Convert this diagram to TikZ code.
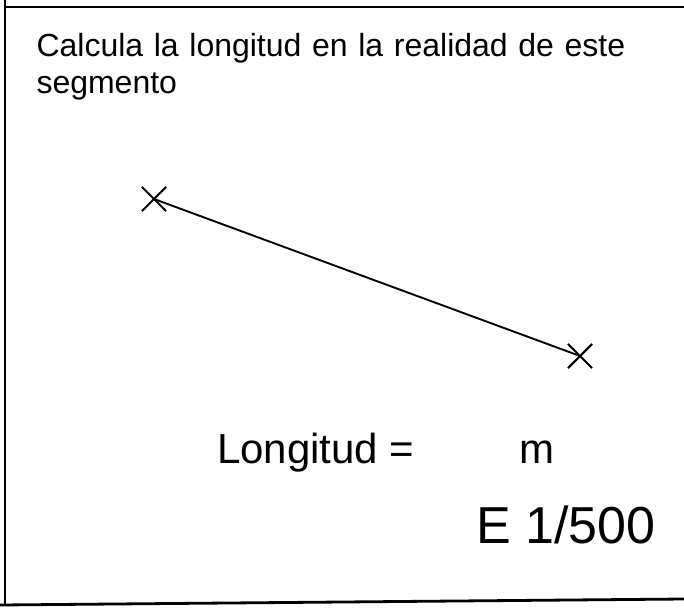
\documentclass[tikz,border=0pt]{standalone}
\usepackage{fontspec}
\setmainfont{Liberation Sans}
\usetikzlibrary{shapes.misc}

\begin{document}
\begin{tikzpicture}[x=1pt, y=-1pt,
    marca/.style={cross out, draw, line width=2.1pt, minimum size=22pt, inner sep=0pt},
    marco/.style={line width=2.8pt},
    texto/.style={anchor=base west, inner sep=0pt, outer sep=0pt}]
    \useasboundingbox (0,0) rectangle (684,607);

    % 边框（左、上、下）
    \draw[marco] (5,0) -- (5,604);
    \draw[marco] (4,7) -- (684,7);
    \draw[marco] (0,605) -- (684,599);

    % 题目
    \node[texto, text width=640pt, align=left,
          font=\fontsize{32}{36.5}\selectfont] (titulo) at (36.5,57)
        {Calcula la longitud en la realidad de este\\segmento};

    % 线段及两端的叉号
    \node[marca] (A) at (154,199) {};
    \node[marca] (B) at (580,356) {};
    \draw[line width=1.9pt] (A.center) -- (B.center);

    % 答案与比例尺
    \node[texto, font=\fontsize{42}{48}\selectfont] (longitud) at (217,463) {Longitud =};
    \node[texto, font=\fontsize{42}{48}\selectfont] (unidad) at (519.5,463) {m};
    \node[texto, font=\fontsize{52}{58}\selectfont] (escala) at (476,543) {E 1/500};
\end{tikzpicture}
\end{document}
